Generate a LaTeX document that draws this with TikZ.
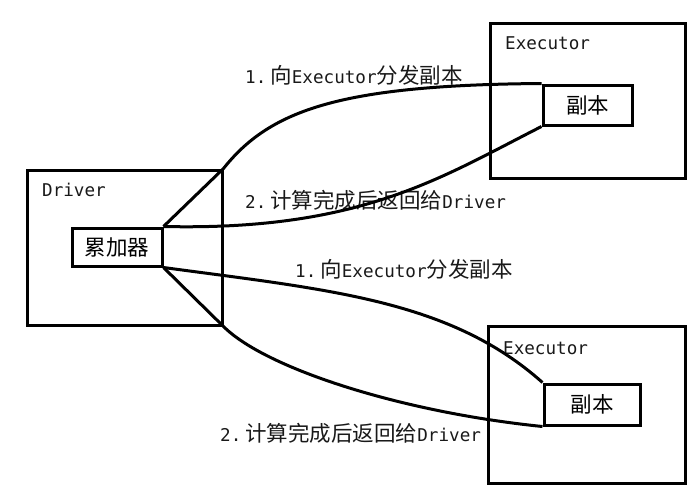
\documentclass[tikz,border=0pt]{standalone}
\usepackage{fontspec}
\setmainfont{DejaVu Sans Mono}
\newfontfamily\cjkfont{Noto Sans CJK SC}
\newcommand{\zh}[1]{{\cjkfont\fontsize{21.5}{24}\selectfont #1}}
\frenchspacing

\begin{document}
\begin{tikzpicture}[x=1pt,y=-1pt,
  box/.style={draw=black,line width=3pt,inner sep=0pt},
  lbl/.style={anchor=west,inner sep=0pt,text=black!90,font=\fontsize{17.6}{22}\selectfont},
  conn/.style={draw=black,line width=3pt,line join=round}]
\useasboundingbox (0,0) rectangle (700,501);
% boxes
\node[box,minimum width=195pt,minimum height=155pt] (drv) at (124.5,247.5) {};
\node[box,minimum width=90pt,minimum height=38pt] (acc) at (117,247) {\zh{累加器}};
\node[box,minimum width=195pt,minimum height=155pt] (tex) at (587.5,100.5) {};
\node[box,minimum width=89pt,minimum height=40pt] (tcopy) at (587.5,105) {\zh{副本}};
\node[box,minimum width=197pt,minimum height=157pt] (bex) at (586.5,404.5) {};
\node[box,minimum width=96pt,minimum height=41pt] (bcopy) at (592,404.5) {\zh{副本}};
\node[lbl] (drvname) at (42,190) {Driver};
\node[lbl] (texname) at (505,43) {Executor};
\node[lbl] (bexname) at (503,348) {Executor};

% labels
\node[lbl] (tsend) at (245,75) {1.\hspace{4pt}\zh{向}Executor\zh{分发副本}};
\node[lbl] (tback) at (245,200) {2.\hspace{4pt}\zh{计算完成后返回给}Driver};
\node[lbl] (bsend) at (295,269) {1.\hspace{4pt}\zh{向}Executor\zh{分发副本}};
\node[lbl] (bback) at (220,433) {2.\hspace{4pt}\zh{计算完成后返回给}Driver};

% connectors
\draw[conn] (acc.north east) -- (drv.north east) .. controls (270,110) and (340,85) .. (tcopy.north west);
\draw[conn] (acc.north east) .. controls (360,231) and (440,178) .. (tcopy.south west);
\draw[conn] (acc.south east) .. controls (330,290) and (450,300) .. (bcopy.north west);
\draw[conn] (acc.south east) -- (drv.south east) .. controls (265,368) and (400,412) .. (bcopy.south west);
\end{tikzpicture}
\end{document}
